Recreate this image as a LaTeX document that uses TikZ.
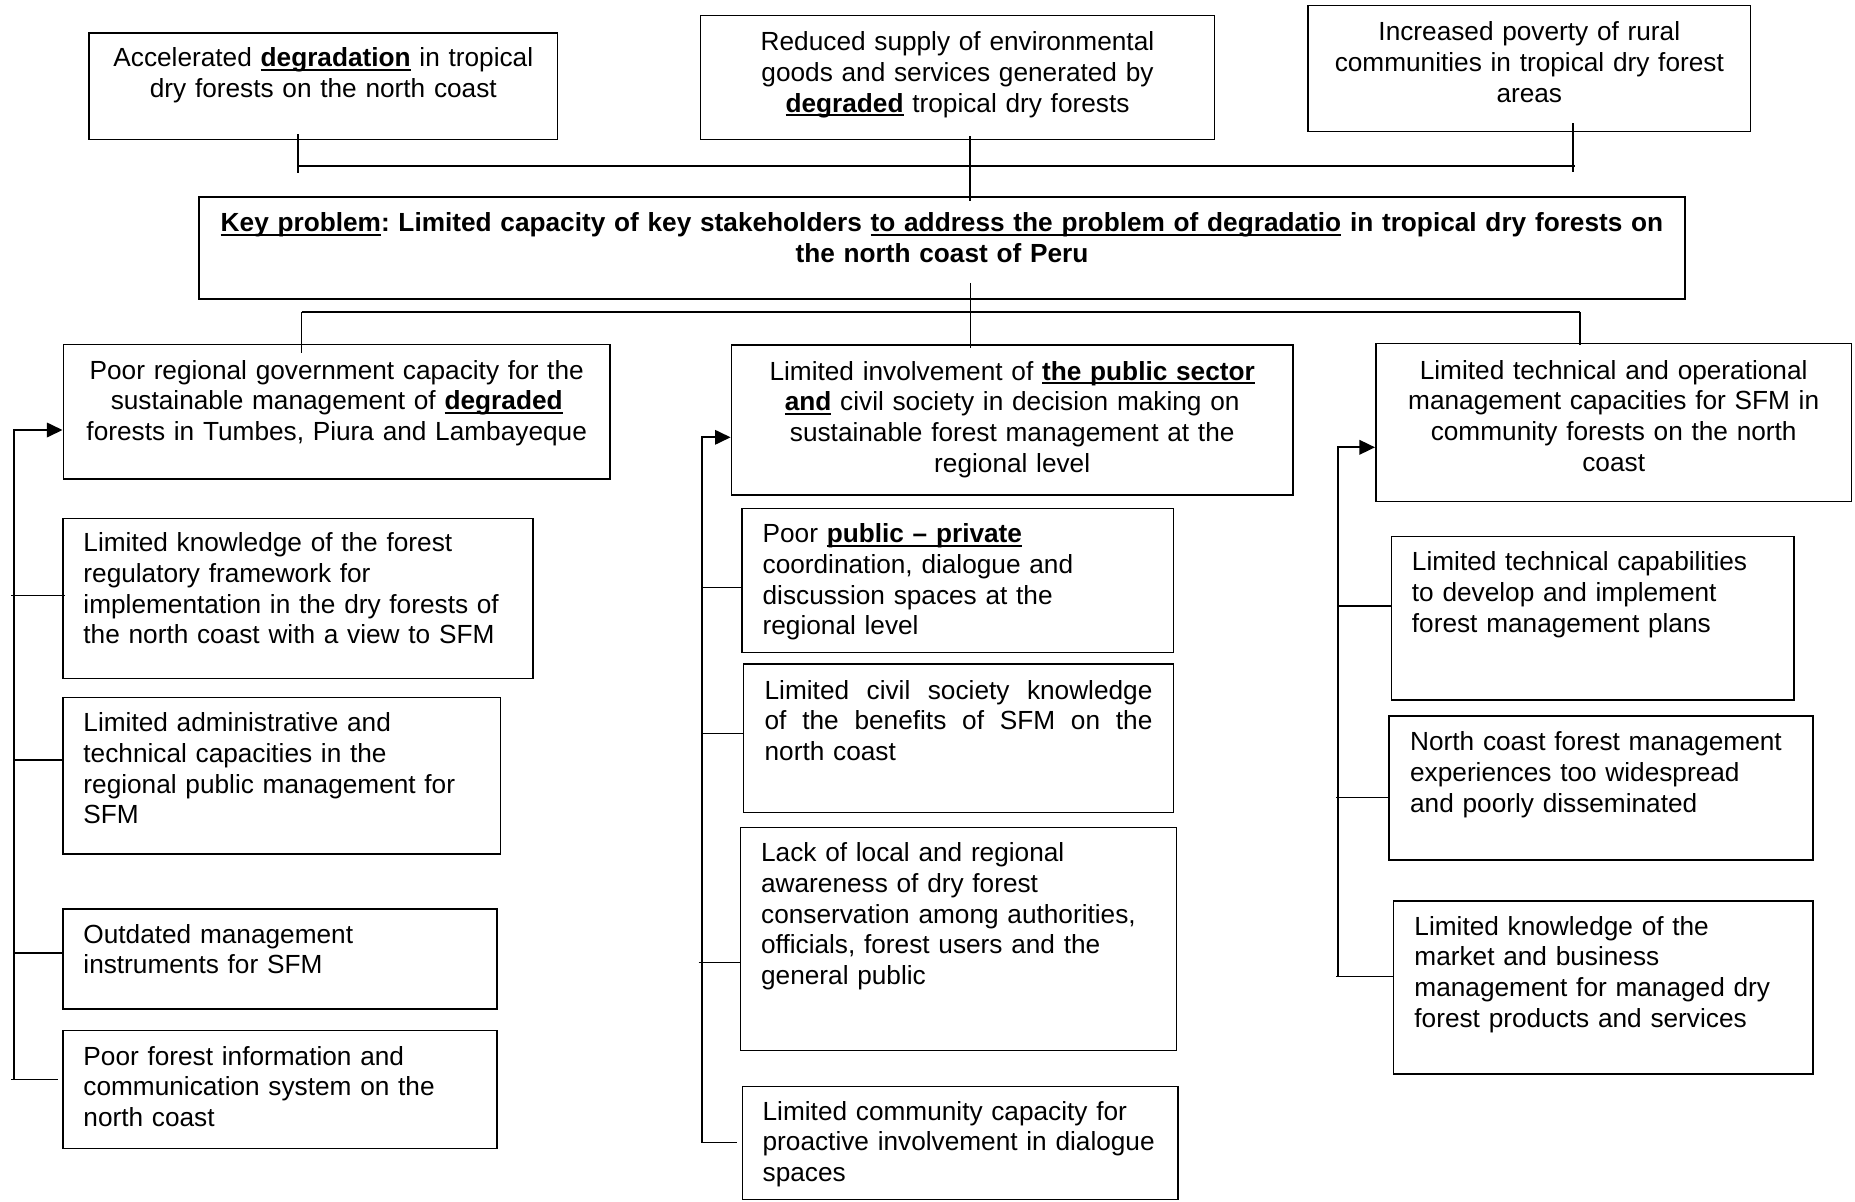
\documentclass[tikz,border=0pt]{standalone}
\usepackage{fontspec}
\setmainfont{Liberation Sans}
\usetikzlibrary{arrows.meta,fit}

% underline at a fixed depth, drawn through the descenders
\newsavebox\ulbox
\newcommand\ulw[1]{\leavevmode\sbox\ulbox{#1}\rlap{\rule[-1.9pt]{\wd\ulbox}{0.9pt}}\usebox\ulbox}
% a justified line of given width
\newcommand\jline[2]{\leavevmode\hbox to #1{#2}}

\begin{document}
\frenchspacing
\begin{tikzpicture}[x=0.45pt,y=-0.45pt,
  frame/.style={draw, line width=0.7pt, inner sep=0pt},
  txt/.style={inner sep=0pt, font=\fontsize{11.8pt}{13.8pt}\selectfont\frenchspacing},
  ctext/.style={txt, align=center, anchor=base},
  ltext/.style={txt, align=left, anchor=base west, text width=250pt},
  conn/.style={line width=0.6pt},
  trunk/.style={line width=0.9pt},
  arr/.style={trunk, -{Triangle[length=7pt,width=6.5pt]}}]

\fill[white] (0,0) rectangle (1855,1201);
\useasboundingbox (0,0) rectangle (1855,1201);

% ---------- effects ----------
\node[frame, fit={(89,33)(557.5,139.3)}] (A) {};
\node[ctext, text width=205pt] (At) at (323.3,66.7)
  {Accelerated \textbf{\ulw{degradation}} in tropical\\dry forests on the north coast};

\node[frame, fit={(700.6,15.7)(1214.5,139.3)}] (B) {};
\node[ctext, text width=225pt] (Bt) at (957.5,50.7)
  {Reduced supply of environmental\\goods and services generated by\\\textbf{\ulw{degraded}} tropical dry forests};

\node[frame, fit={(1308,5.7)(1750.7,131.3)}] (C) {};
\node[ctext, text width=195pt] (Ct) at (1529.3,40.7)
  {Increased poverty of rural\\communities in tropical dry forest\\areas};

% ---------- key problem ----------
\node[frame, fit={(199,197)(1685,299)}] (K) {};
\node[ctext, text width=665pt, font=\fontsize{11.8pt}{13.8pt}\selectfont\bfseries\frenchspacing] (Kt) at (942,231.7)
  {\ulw{Key problem}: Limited capacity of key stakeholders \ulw{to address the problem of degradatio} in tropical dry forests on\\the north coast of Peru};

% ---------- causes, left column ----------
\node[frame, fit={(63.3,344.3)(610,479)}] (L1) {};
\node[ctext, text width=240pt] (L1t) at (336.7,379.3)
  {Poor regional government capacity for the\\sustainable management of \textbf{\ulw{degraded}}\\forests in Tumbes, Piura and Lambayeque};

\node[frame, fit={(63,518.3)(533,678.3)}] (L2) {};
\node[ltext] (L2t) at (83,551.7)
  {Limited knowledge of the forest\\regulatory framework for\\implementation in the dry forests of\\the north coast with a view to SFM};

\node[frame, fit={(63,697.7)(500.6,854)}] (L3) {};
\node[ltext] (L3t) at (83,731.8)
  {Limited administrative and\\technical capacities in the\\regional public management for\\SFM};

\node[frame, fit={(63,909)(497,1009)}] (L4) {};
\node[ltext] (L4t) at (83,943.3)
  {Outdated management\\instruments for SFM};

\node[frame, fit={(63,1030.7)(497,1148.3)}] (L5) {};
\node[ltext] (L5t) at (83,1065)
  {Poor forest information and\\communication system on the\\north coast};

% ---------- causes, middle column ----------
\node[frame, fit={(731.4,345)(1293,495)}] (M1) {};
\node[ctext, text width=250pt] (M1t) at (1012.2,380)
  {Limited involvement of \textbf{\ulw{the public sector}}\\\textbf{\ulw{and}} civil society in decision making on\\sustainable forest management at the\\regional level};

\node[frame, fit={(742,508.3)(1173.5,652.7)}] (M2) {};
\node[ltext] (M2t) at (762.2,542.7)
  {Poor \textbf{\ulw{public – private}}\\coordination, dialogue and\\discussion spaces at the\\regional level};

\node[frame, fit={(743.7,664)(1173.5,812.3)}] (M3) {};
\node[ltext] (M3t) at (764.2,699.3)
  {\jline{174.5pt}{Limited\hfill civil\hfill society\hfill knowledge}\\\jline{174.5pt}{of\hfill the\hfill benefits\hfill of\hfill SFM\hfill on\hfill the}\\north coast};

\node[frame, fit={(740.5,827.7)(1176.6,1050.7)}] (M4) {};
\node[ltext] (M4t) at (760.7,861.7)
  {Lack of local and regional\\awareness of dry forest\\conservation among authorities,\\officials, forest users and the\\general public};

\node[frame, fit={(742.5,1086.3)(1178,1199.5)}] (M5) {};
\node[ltext] (M5t) at (762.2,1120)
  {Limited community capacity for\\proactive involvement in dialogue\\spaces};

% ---------- causes, right column ----------
\node[frame, fit={(1375.8,343.3)(1851.5,501.7)}] (R1) {};
\node[ctext, text width=212pt] (R1t) at (1613.7,379.3)
  {Limited technical and operational\\management capacities for SFM in\\community forests on the north\\coast};

\node[frame, fit={(1391.3,536.7)(1793.8,700)}] (R2) {};
\node[ltext] (R2t) at (1411.5,570.7)
  {Limited technical capabilities\\to develop and implement\\forest management plans};

\node[frame, fit={(1389,715.8)(1813,860)}] (R3) {};
\node[ltext] (R3t) at (1409.7,750.7)
  {North coast forest management\\experiences too widespread\\and poorly disseminated};

\node[frame, fit={(1393.5,901)(1813,1074)}] (R4) {};
\node[ltext] (R4t) at (1414,935)
  {Limited knowledge of the\\market and business\\management for managed dry\\forest products and services};

% ---------- upper bus: key problem to effects ----------
\coordinate (jA) at (298,166);
\coordinate (jB) at (970,166);
\coordinate (jC) at (1573,166);
\draw[conn] (jA) -- ([xshift=0.9pt]jC);
\draw[conn] (A.south -| jA) ++(0,-6) -- (jA) -- ++(0,7);
\draw[conn] (B.south -| jB) ++(0,-4) -- (K.north -| jB) -- ++(0,5);
\draw[conn] (C.south -| jC) ++(0,-9) -- (jC) -- ++(0,6);

% ---------- lower bus: key problem to causes ----------
\coordinate (kL) at (301.5,312);
\coordinate (kM) at (970.5,312);
\coordinate (kR) at (1580,312);
\draw[trunk] (kL) -- (kR);
\draw[conn] (K.south -| kM) ++(0,-17) -- (kM) -- (M1.north -| kM) -- ++(0,4);
\draw[conn] (kL) -- (L1.north -| kL) -- ++(0,9);
\draw[conn] (kR) -- (R1.north -| kR) -- ++(0,2);

% ---------- left column tree ----------
\coordinate (lt) at (14,430);
\coordinate (l2) at (14,595.3);
\coordinate (l3) at (14,760);
\coordinate (l4) at (14,953);
\coordinate (l5) at (14,1079.3);
\draw[arr] (l5) -- (lt) -- (L1.west |- lt);
\draw[conn] (l2) ++(-3,0) -- ([xshift=1.3pt]L2.west |- l2);
\draw[conn] (l3) -- (L3.west |- l3);
\draw[conn] (l4) -- (L4.west |- l4);
\draw[conn] (l5) ++(-3,0) -- ([xshift=-1.7pt]L5.west |- l5);

% ---------- middle column tree ----------
\coordinate (mt) at (701.7,437.3);
\coordinate (m2) at (701.7,587.3);
\coordinate (m3) at (701.7,733.3);
\coordinate (m4) at (701.7,962.7);
\coordinate (m5) at (701.7,1142.7);
\draw[arr] (m5) -- (mt) -- (M1.west |- mt);
\draw[conn] (m2) -- (M2.west |- m2);
\draw[conn] (m3) -- (M3.west |- m3);
\draw[conn] (m4) ++(-3,0) -- (M4.west |- m4);
\draw[conn] (m5) -- ([xshift=-2pt]M5.west |- m5);

% ---------- right column tree ----------
\coordinate (rt) at (1338,447.3);
\coordinate (r2) at (1338,606);
\coordinate (r3) at (1338,797.3);
\coordinate (r4) at (1338,976.7);
\draw[arr] (r4) -- (rt) -- (R1.west |- rt);
\draw[conn] (r2) -- (R2.west |- r2);
\draw[conn] (r3) ++(-2,0) -- (R3.west |- r3);
\draw[conn] (r4) ++(-2,0) -- (R4.west |- r4);

\end{tikzpicture}
\end{document}
